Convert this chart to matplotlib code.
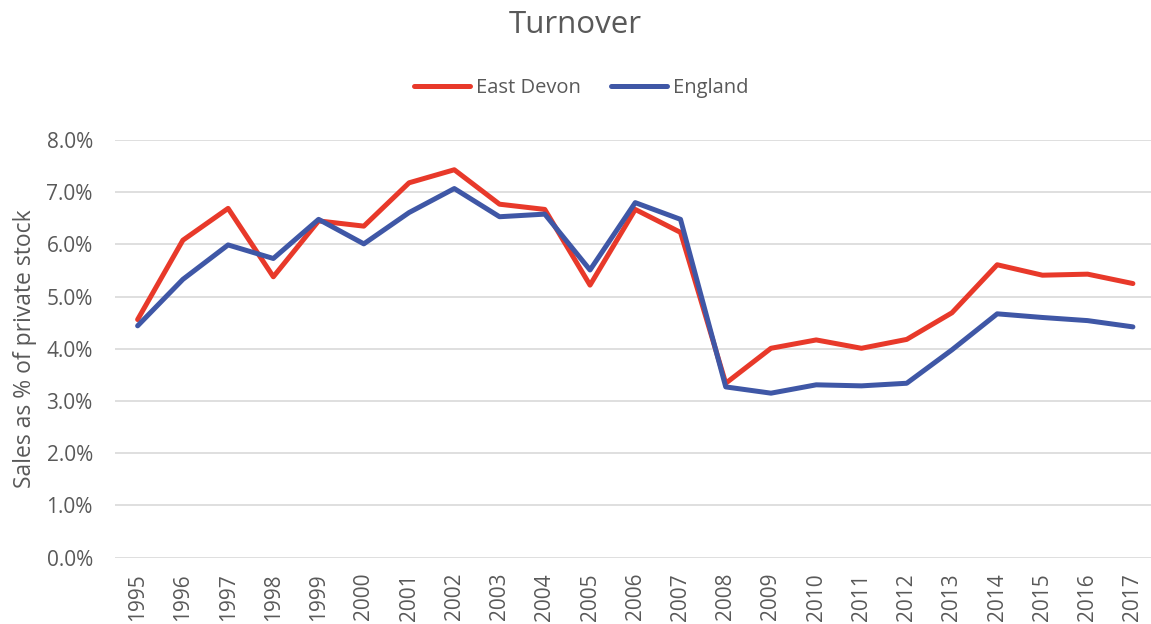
import matplotlib
matplotlib.use("Agg")
from matplotlib import pyplot as plt
from matplotlib.ticker import FuncFormatter

plt.rcParams['font.family'] = ['Open Sans', 'DejaVu Sans']

years = list(range(1995, 2018))
east_devon = [4.56, 6.08, 6.69, 5.38, 6.45, 6.35, 7.18, 7.43, 6.77, 6.67, 5.22, 6.67,
              6.23, 3.34, 4.01, 4.17, 4.01, 4.18, 4.69, 5.61, 5.41, 5.43, 5.25]
england = [4.44, 5.33, 5.99, 5.73, 6.48, 6.01, 6.61, 7.07, 6.53, 6.58, 5.51, 6.80,
           6.48, 3.27, 3.15, 3.31, 3.29, 3.34, 3.98, 4.67, 4.60, 4.54, 4.42]
y_ticks = [0, 1, 2, 3, 4, 5, 6, 7, 8]

text_col = '#595959'
W, H = 1151, 624

fig = plt.figure(figsize=(W / 100, H / 100), dpi=100)
ax = fig.add_axes([115 / W, 66.4 / H, 1036 / W, 417.6 / H])

ax.plot(years, east_devon, color='#e8392a', linewidth=3.6, label='East Devon',
        solid_joinstyle='round', solid_capstyle='round')
ax.plot(years, england, color='#3f57a6', linewidth=3.6, label='England',
        solid_joinstyle='round', solid_capstyle='round')

ax.set_xlim(1994.5, 2017.4)
ax.set_ylim(0, 8)
ax.set_yticks(y_ticks)
ax.yaxis.set_major_formatter(FuncFormatter(lambda v, p: f"{v:.1f}%"))
ax.set_xticks(years)
ax.set_xticklabels([str(y) for y in years], rotation=90)
ax.tick_params(axis='both', length=0, labelsize=15, colors=text_col)
ax.tick_params(axis='y', pad=16)
ax.tick_params(axis='x', pad=11)
ax.grid(axis='y', color='#d9d9d9', linewidth=1.2)
ax.set_axisbelow(True)
for s in ax.spines.values():
    s.set_visible(False)

ax.set_ylabel('Sales as % of private stock', fontsize=16.5, color=text_col, labelpad=7)
fig.text(0.5, 1 - 25 / H, 'Turnover', ha='center', va='center', fontsize=22.5, color=text_col)

leg = fig.legend(loc='center', bbox_to_anchor=(0.505, 1 - 88 / H), ncol=2, frameon=False,
                 fontsize=14.5, handlelength=2.8, columnspacing=1.45, handletextpad=0.3)
for t in leg.get_texts():
    t.set_color(text_col)

fig.savefig('out.png', dpi=100, facecolor='white')
